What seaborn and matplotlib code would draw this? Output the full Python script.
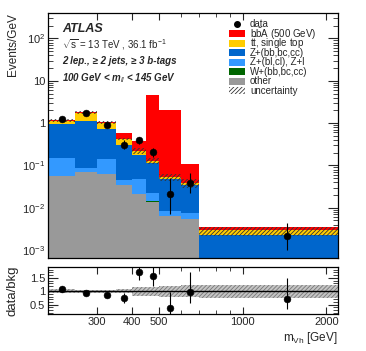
import numpy as np
import pandas as pd
import matplotlib
matplotlib.use("Agg")
import matplotlib.pyplot as plt
import seaborn as sns
from matplotlib.patches import Rectangle
from matplotlib.ticker import FixedLocator, FixedFormatter, LogLocator, NullFormatter, MultipleLocator

# binning in m_Vh [GeV]
bin_edges = [200, 250, 300, 350, 400, 450, 500, 600, 700, 2200]

# Events/GeV per process (stack order bottom -> top)
other = [0.055, 0.071, 0.063, 0.035, 0.021, 0.014, 0.0065, 0.0054, 0.0]
w_hf = [0.0003, 0.0003, 0.0003, 0.0002, 0.0001, 0.0001, 0.00005, 0.00005, 0.0]
z_light = [0.091, 0.018, 0.078, 0.0108, 0.027, 0.0079, 0.00195, 0.00205, 0.0]
z_hf = [0.814, 1.021, 0.579, 0.261, 0.130, 0.091, 0.0385, 0.0275, 0.00225]
ttbar = [0.19, 0.67, 0.31, 0.113, 0.047, 0.017, 0.006, 0.004, 0.00065]
signal = [0.02, 0.02, 0.03, 0.16, 0.155, 4.54, 2.0, 0.067, 0.0007]
bkg_rel_unc = [0.07, 0.06, 0.06, 0.07, 0.17, 0.17, 0.2, 0.23, 0.24]

data = [1.24, 1.69, 0.88, 0.31, 0.39, 0.206, 0.021, 0.038, 0.0021]
data_err_up = [0.15, 0.10, 0.09, 0.08, 0.08, 0.055, 0.03, 0.029, 0.0022]
data_err_down = [0.14, 0.10, 0.08, 0.07, 0.07, 0.05, 0.014, 0.016, 0.0011]

xtick_values = [300, 400, 500, 1000, 2000]
xtick_labels = ["300", "400", "500", "1000", "2000"]
ytick_values = [1e-3, 1e-2, 1e-1, 1, 10, 100]
ytick_labels = ["10$^{-3}$", "10$^{-2}$", "10$^{-1}$", "1", "10", "10$^{2}$"]
rtick_values = [0.5, 1.0, 1.5]
rtick_labels = ["0.5", "1", "1.5"]

legend_labels = ["data", "b$\\bar{\\rm b}$A (500 GeV)", "t$\\bar{\\rm t}$, single top",
                 "Z+(bb,bc,cc)", "Z+(bl,cl), Z+l", "W+(bb,bc,cc)", "other", "uncertainty"]

sns.set_style("ticks")
plt.rcParams["font.family"] = ["Liberation Sans", "DejaVu Sans"]
plt.rcParams["mathtext.fontset"] = "custom"
plt.rcParams["mathtext.rm"] = "Liberation Sans"
plt.rcParams["mathtext.it"] = "Liberation Sans:italic"
plt.rcParams["mathtext.bf"] = "Liberation Sans:bold"
plt.rcParams["hatch.linewidth"] = 0.6

edges = np.array(bin_edges, dtype=float)
centers = 0.5 * (edges[:-1] + edges[1:])
layers = [(other, "#999999"), (w_hf, "#006600"), (z_light, "#3399ff"),
          (z_hf, "#0066cc"), (ttbar, "#ffcc00"), (signal, "#ff0000")]
cum = np.cumsum([np.array(v) for v, c in layers], axis=0)
bkg = cum[4]
data_a = np.array(data)
up = np.array(data_err_up)
dn = np.array(data_err_down)
rel = np.array(bkg_rel_unc)

fig = plt.figure(figsize=(3.66, 3.51), dpi=100)
ax = fig.add_axes([0.131, 0.265, 0.792, 0.698])
rax = fig.add_axes([0.131, 0.105, 0.792, 0.134])

# stack: draw cumulative totals from top layer down
for (vals, color), top in reversed(list(zip(layers, cum))):
    df = pd.DataFrame({"mvh": centers, "w": top})
    sns.histplot(data=df, x="mvh", weights="w", bins=list(bin_edges), color=color,
                 element="bars", alpha=1, linewidth=0, ax=ax)

ax.stairs(bkg * (1 + rel), edges, baseline=bkg * (1 - rel), fill=True,
          facecolor="none", edgecolor="#333333", hatch="////////", linewidth=0)

ax.errorbar(centers, data_a, yerr=[dn, up], fmt="none", ecolor="black", elinewidth=0.8, zorder=5)
sns.scatterplot(x=centers, y=data_a, color="black", s=24, edgecolor="black", ax=ax, zorder=6)

# ratio panel
ratio = data_a / bkg
rax.stairs(1 + rel, edges, baseline=1 - rel, fill=True, facecolor="#c4c4c4",
           edgecolor="#777777", hatch="////////", linewidth=0)
rax.axhline(1, color="black", lw=1)
rax.errorbar(centers, ratio, yerr=[dn / bkg, up / bkg], fmt="none", ecolor="black",
             elinewidth=0.8, zorder=5)
sns.scatterplot(x=centers, y=ratio, color="black", s=24, edgecolor="black", ax=rax, zorder=6)

for a in (ax, rax):
    a.set_xscale("log")
    a.set_xlim(edges[0], edges[-1])
    a.xaxis.set_major_locator(FixedLocator(xtick_values))
    a.xaxis.set_minor_locator(LogLocator(base=10, subs=np.arange(2, 10)))
    a.xaxis.set_minor_formatter(NullFormatter())
    a.tick_params(which="both", direction="in", top=True, right=True, labelsize=8, pad=2)
    a.tick_params(axis="x", which="major", length=5)
    a.tick_params(axis="x", which="minor", length=3)
    a.tick_params(axis="y", which="major", length=7)
    a.tick_params(axis="y", which="minor", length=3.5)
    for s in a.spines.values():
        s.set_color("black")
        s.set_linewidth(0.9)

ax.set_yscale("log")
ax.set_ylim(6.5e-4, 4e2)
ax.yaxis.set_major_locator(FixedLocator(ytick_values))
ax.yaxis.set_major_formatter(FixedFormatter(ytick_labels))
ax.yaxis.set_minor_locator(LogLocator(base=10, subs=np.arange(2, 10)))
ax.yaxis.set_minor_formatter(NullFormatter())
ax.tick_params(labelbottom=False)
ax.set_xlabel("")
ax.set_ylabel("Events/GeV", loc="top", fontsize=8.5)
ax.yaxis.set_label_coords(-0.1, 1.0)

rax.set_ylim(0.15, 1.9)
rax.yaxis.set_major_locator(FixedLocator(rtick_values))
rax.yaxis.set_major_formatter(FixedFormatter(rtick_labels))
rax.yaxis.set_minor_locator(MultipleLocator(0.1))
rax.xaxis.set_major_formatter(FixedFormatter(xtick_labels))
rax.set_ylabel("data/bkg", fontsize=9.5)
rax.yaxis.set_label_coords(-0.1, 0.5)
rax.set_xlabel("m$_{\\rm Vh}$ [GeV]", loc="right", fontsize=8.5, labelpad=2)

ax.text(0.048, 0.935, "ATLAS", transform=ax.transAxes, fontsize=9, fontweight="bold",
        fontstyle="italic", va="center")
ax.text(0.048, 0.873, "$\\sqrt{\\rm s}$ = 13 TeV , 36.1 fb$^{-1}$", transform=ax.transAxes,
        fontsize=7, va="center")
ax.text(0.048, 0.802, "2 lep., \u2265 2 jets, \u2265 3 b-tags", transform=ax.transAxes,
        fontsize=7, fontweight="bold", fontstyle="italic", va="center")
ax.text(0.048, 0.733, "100 GeV < m$_{ll}$ < 145 GeV", transform=ax.transAxes,
        fontsize=7, fontweight="bold", fontstyle="italic", va="center")

# ROOT-style legend with even row spacing
leg_x, leg_w, leg_h = 0.625, 0.055, 0.027
leg_text_x, leg_top, leg_step = 0.697, 0.954, 0.0388
swatches = [None] + [c for v, c in reversed(layers)] + ["hatch"]
for i, (label, sw) in enumerate(zip(legend_labels, swatches)):
    yc = leg_top - i * leg_step
    if sw is None:
        ax.plot([leg_x + leg_w / 2], [yc], marker="o", color="black", markersize=4,
                transform=ax.transAxes, clip_on=False)
    elif sw == "hatch":
        ax.add_patch(Rectangle((leg_x, yc - leg_h / 2), leg_w, leg_h, transform=ax.transAxes,
                               facecolor="white", edgecolor="#333333", hatch="////////",
                               linewidth=0))
    else:
        ax.add_patch(Rectangle((leg_x, yc - leg_h / 2), leg_w, leg_h, transform=ax.transAxes,
                               facecolor=sw, linewidth=0))
    ax.text(leg_text_x, yc, label, transform=ax.transAxes, fontsize=7, va="center")

fig.savefig("out.png", dpi=100)
